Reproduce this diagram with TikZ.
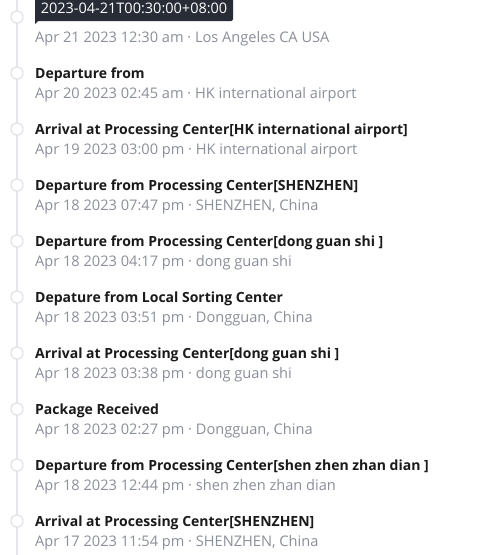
\documentclass[tikz,border=0pt]{standalone}
\usepackage{fontspec}
\setmainfont{Open Sans}
\definecolor{linegray}{RGB}{228,230,233}
\definecolor{circgray}{RGB}{220,222,226}
\definecolor{subgray}{RGB}{138,143,153}
\definecolor{titleblack}{RGB}{26,26,26}
\definecolor{tipbg}{RGB}{39,44,54}
\tikzset{
  dot/.style={circle,draw=circgray,fill=white,line width=1pt,minimum size=12pt,inner sep=0pt},
  ttl/.style={anchor=base west,inner sep=0pt,font=\fontsize{14}{16}\selectfont\bfseries,text=titleblack},
  sub/.style={anchor=base west,inner sep=0pt,font=\fontsize{14.6}{17}\selectfont,text=subgray},
}
\begin{document}
\begin{tikzpicture}[x=1pt,y=-1pt]
\useasboundingbox[fill=white] (0,0) rectangle (484,555);
\coordinate (ltop) at (17,0);
\coordinate (lbot) at (17,555);
\draw[linegray,line width=1.5pt] (ltop) -- (lbot);
% items
\foreach \i/\t/\s in {
 0//{Apr 21 2023 12:30 am · Los Angeles CA USA},
 1/{Departure from}/{Apr 20 2023 02:45 am · HK international airport},
 2/{Arrival at Processing Center[HK international airport]}/{Apr 19 2023 03:00 pm · HK international airport},
 3/{Departure from Processing Center[SHENZHEN]}/{Apr 18 2023 07:47 pm · SHENZHEN, China},
 4/{Departure from Processing Center[dong guan shi ]}/{Apr 18 2023 04:17 pm · dong guan shi},
 5/{Depature from Local Sorting Center}/{Apr 18 2023 03:51 pm · Dongguan, China},
 6/{Arrival at Processing Center[dong guan shi ]}/{Apr 18 2023 03:38 pm · dong guan shi},
 7/{Package Received}/{Apr 18 2023 02:27 pm · Dongguan, China},
 8/{Departure from Processing Center[shen zhen zhan dian ]}/{Apr 18 2023 12:44 pm · shen zhen zhan dian},
 9/{Arrival at Processing Center[SHENZHEN]}/{Apr 17 2023 11:54 pm · SHENZHEN, China}}
{
  \pgfmathsetmacro{\yc}{17+56*\i}
  \node[dot] (d\i) at (17,\yc) {};
  \node[ttl] (t\i) at (35,\yc+5) {\t};
  \node[sub] (s\i) at (35,\yc+25) {\s};
}
% tooltip
\fill[tipbg,rounded corners=2pt] (35,-4) rectangle (233,21);
\fill[tipbg] (35,19) -- (35,24) -- (40,19) -- cycle;
\node[anchor=base,inner sep=0pt,text=white,font=\fontsize{14.5}{17}\selectfont] (tip) at (134,13) {2023-04-21T00:30:00+08:00};
\end{tikzpicture}
\end{document}
